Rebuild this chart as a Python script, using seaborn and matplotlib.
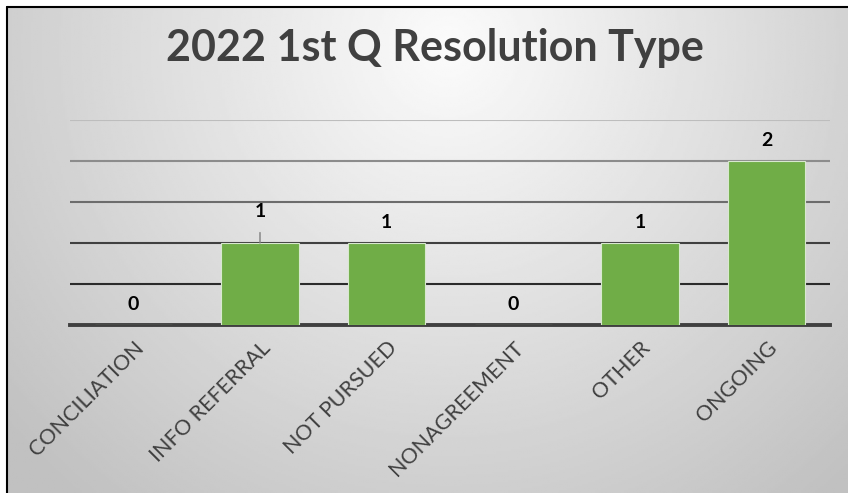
import numpy as np
import pandas as pd
import seaborn as sns
import matplotlib.pyplot as plt

# chart data
categories = ['CONCILIATION', 'INFO REFERRAL', 'NOT PURSUED', 'NONAGREEMENT', 'OTHER', 'ONGOING']
counts = [0, 1, 1, 0, 1, 2]
title = '2022 1st Q Resolution Type'

df = pd.DataFrame({'type': categories, 'count': counts})

sns.set_theme(style='white')
plt.rcParams['font.family'] = ['Lato', 'DejaVu Sans']

fig = plt.figure(figsize=(8.48, 4.93), dpi=100)
fig.patch.set_facecolor('white')

# radial gradient background (chart area starts a few px in from the left/top)
x0 = 7 / 848
y1 = 1 - 7 / 493
bg = fig.add_axes([x0, 0, 1 - x0, y1], zorder=-5)
gx, gy = np.meshgrid(np.linspace(-1, 1, 400), np.linspace(0, 1, 240))
r = np.sqrt(((gx - 0.05) / 1.15) ** 2 + ((gy - 0.08) / 1.0) ** 2)
shade = 0.985 - 0.19 * np.clip(r, 0, 1.2)
bg.imshow(shade, cmap='gray', vmin=0, vmax=1, aspect='auto', extent=[0, 1, 1, 0])
bg.set_xlim(0, 1)
bg.set_ylim(1, 0)
bg.axis('off')
fig.add_artist(plt.Line2D([x0, 1], [y1, y1], color='black', lw=1.5, transform=fig.transFigure))
fig.add_artist(plt.Line2D([x0, x0], [0, y1], color='black', lw=1.5, transform=fig.transFigure))

ax = fig.add_axes([70 / 848, 1 - 325 / 493, 760 / 848, 205 / 493])
ax.patch.set_alpha(0)

sns.barplot(data=df, x='type', y='count', color='#70AD47', width=0.61,
            edgecolor='#d8e8cf', linewidth=0.8, saturation=1, ax=ax, zorder=3)

ax.set_ylim(0, 2.5)
ax.set_yticks([0.5, 1.0, 1.5, 2.0, 2.5])
ax.yaxis.grid(True, linewidth=1.5, zorder=0)
grid_colors = ['#2b2b2b', '#404040', '#6c6c6c', '#8c8c8c', '#bdbdbd']
for gl, c in zip(ax.get_ygridlines(), grid_colors):
    gl.set_color(c)
ax.set_axisbelow(True)
ax.tick_params(axis='y', left=False, labelleft=False)
ax.tick_params(axis='x', bottom=False, pad=3)
for s in ['left', 'right', 'top']:
    ax.spines[s].set_visible(False)
ax.spines['bottom'].set_color('#404040')
ax.spines['bottom'].set_linewidth(2.8)
ax.set_xlabel('')
ax.set_ylabel('')

ax.set_xticks(range(len(categories)))
ax.set_xticklabels(categories, rotation=45, ha='right', va='top',
                   rotation_mode='anchor', fontsize=15.5, color='#404040')

# value labels
for i, v in enumerate(counts):
    if categories[i] == 'INFO REFERRAL':
        ax.annotate(str(v), xy=(i, v), xytext=(0, 23), textcoords='offset points',
                    ha='center', va='center', fontsize=14, fontweight='bold', color='black',
                    arrowprops=dict(arrowstyle='-', color='#7f7f7f', lw=1, shrinkA=7, shrinkB=0))
    else:
        ax.annotate(str(v), xy=(i, v), xytext=(0, 15), textcoords='offset points',
                    ha='center', va='center', fontsize=14, fontweight='bold', color='black')

fig.text(0.513, 1 - 48 / 493, title, ha='center', va='center', fontsize=31,
         fontweight='bold', color='#404040')

fig.savefig('out.png', dpi=100)
